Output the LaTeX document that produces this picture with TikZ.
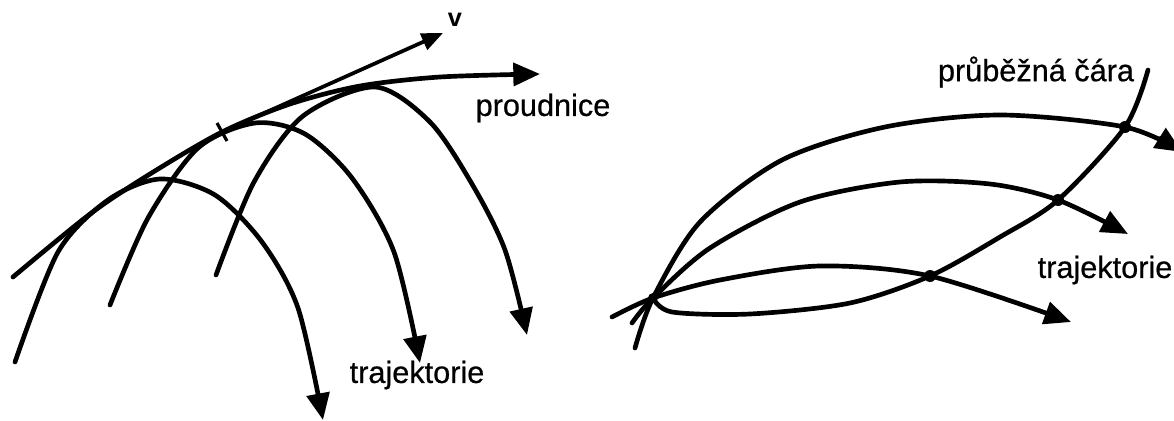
\documentclass[tikz,border=0pt]{standalone}
\usepackage{fontspec}
\setmainfont{Liberation Sans}
\newfontfamily\lblfont[FakeBold=0.6]{Liberation Sans}
\usetikzlibrary{arrows.meta}

\tikzset{
  curve/.style={line width=3.5pt, line cap=round, line join=round},
  arr/.style={curve, -{Triangle[length=20pt,width=17pt]}},
  varr/.style={line width=2.8pt, line cap=round, -{Triangle[length=16pt,width=13pt]}},
  lbl/.style={inner sep=0.75pt, font=\lblfont\fontsize{23}{27}\selectfont},
  vlbl/.style={inner sep=0.75pt, font=\fontsize{19}{23}\selectfont\bfseries},
  dot/.style={fill=black},
}

\begin{document}
\begin{tikzpicture}[x=0.75pt,y=0.75pt,yscale=-1,xscale=1]
        \useasboundingbox (0,0) rectangle (1174,421);

        \coordinate (T) at (222,132);
        \coordinate (vtip) at (443,33);
        \coordinate (F) at (653,298);
        \coordinate (D1) at (930,276);
        \coordinate (D2) at (1058,200);
        \coordinate (D3) at (1125,127);

        \draw [arr] plot [smooth] coordinates {(13,277) (90,214) (150,174) (T) (290,104) (360,86) (440,77) (540,74)};
        \draw [varr] (T) -- (vtip);
        \draw [line width=2.4pt] (217,123) -- (227,141);

        \draw [arr] plot [smooth] coordinates {(15,362) (58,252) (108,200) (160,179) (215,195) (262,242) (298,308) (323,420)};
        \draw [arr] plot [smooth] coordinates {(110,305) (148,218) (198,148) (255,123) (305,134) (352,178) (394,252) (420,363)};
        \draw [arr] plot [smooth] coordinates {(216,275) (254,182) (303,116) (375,87) (430,122) (472,184) (505,250) (527,335)};

        \draw [arr] plot [smooth] coordinates {(635,348) (F) (700,222) (782,160) (885,127) (1000,115) (D3) (1182,152)};
        \draw [arr] plot [smooth] coordinates {(632,323) (F) (710,248) (800,202) (900,182) (990,184) (D2) (1128,234)};
        \draw [arr] plot [smooth] coordinates {(612,317) (F) (720,280) (820,266) (D1) (1071,322)};
        \draw [curve] plot [smooth] coordinates {(F) (672,312) (750,314) (850,303) (D1) (1000,237) (D2) (D3) (1148,70)};

        \fill [dot] (F) circle [radius=5];
        \fill [dot] (D1) circle [radius=6];
        \fill [dot] (D2) circle [radius=6];
        \fill [dot] (D3) circle [radius=6];

        \draw (455,20) node (vlabel) [vlbl] {v};
        \draw (543,108) node (proudlabel) [lbl] {proudnice};
        \draw (417,375) node (trajlabelL) [lbl] {trajektorie};
        \draw (1036,72) node (streaklabel) [lbl] {průběžná čára};
        \draw (1105,270) node (trajlabelR) [lbl] {trajektorie};
\end{tikzpicture}
\end{document}
